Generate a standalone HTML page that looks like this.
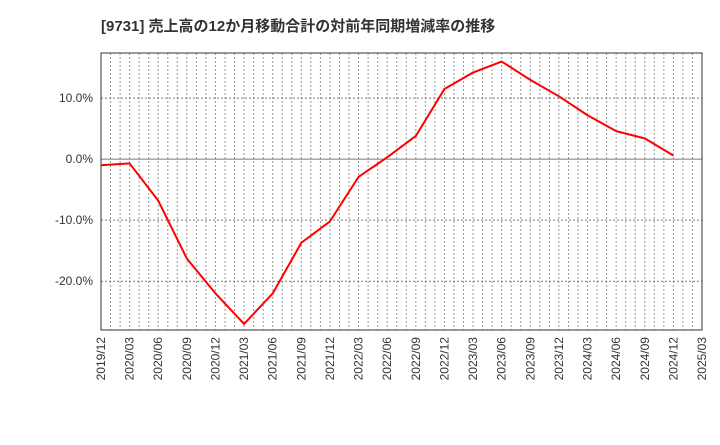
<!DOCTYPE html>
<html><head><meta charset="utf-8"><style>
body{margin:0;background:#fff;}
svg text{font-family:"Liberation Sans","Noto Sans CJK JP",sans-serif;}
</style></head><body>
<svg width="720" height="440">
<text x="101" y="31" font-size="15" font-weight="bold" fill="#333">[9731]  売上高の12か月移動合計の対前年同期増減率の推移</text>
<g id="grid"></g><g id="axes"></g><g id="series"></g>
</svg>
<script>
const categories=["2019/12","2020/03","2020/06","2020/09","2020/12","2021/03","2021/06","2021/09","2021/12","2022/03","2022/06","2022/09","2022/12","2023/03","2023/06","2023/09","2023/12","2024/03","2024/06","2024/09","2024/12","2025/03"];
const values=[-1.0,-0.7,-6.8,-16.3,-22.0,-27.0,-22.0,-13.7,-10.2,-2.9,0.3,3.8,11.5,14.2,16.0,13.0,10.3,7.2,4.6,3.4,0.6];
const yTicks=[10,0,-10,-20];
const L=101,R=702,T=53,B=330,yMax=17.4,yMin=-28;
const NS="http://www.w3.org/2000/svg";
const x=i=>L+(R-L)*i/(categories.length-1);
const y=v=>T+(yMax-v)/(yMax-yMin)*(B-T);
function mk(t,a,p){const e=document.createElementNS(NS,t);for(const k in a)e.setAttribute(k,a[k]);p.appendChild(e);return e;}
const g=document.getElementById('grid'),ax=document.getElementById('axes'),s=document.getElementById('series');
const months=(categories.length-1)*3;
for(let m=1;m<months;m++){const xx=L+(R-L)*m/months;
const ln=mk('line',{x1:xx,x2:xx,y1:T,y2:B,stroke:'#999','stroke-dasharray':'2,2','stroke-width':1},g);

}
yTicks.forEach(v=>{const yy=y(v);
const ln=mk('line',{x1:L,x2:R,y1:yy,y2:yy,stroke:v===0?'#777':'#777','stroke-dasharray':v===0?'none':'2,2','stroke-width':1},g);


const t=mk('text',{x:L-8,y:yy+4,'text-anchor':'end','font-size':12,fill:'#333'},ax);t.textContent=v.toFixed(1)+'%';

});
const fr=mk('rect',{x:L,y:T,width:R-L,height:B-T,fill:'none',stroke:'#333','stroke-width':1},ax);


categories.forEach((c,i)=>{const xx=x(i);
const t=mk('text',{x:0,y:0,'text-anchor':'end','font-size':12,fill:'#333',transform:`translate(${xx+4},${B+7}) rotate(-90)`},ax);t.textContent=c;

});
const pl=mk('polyline',{points:values.map((v,i)=>x(i)+','+y(v)).join(' '),fill:'none',stroke:'#f00','stroke-width':2,'stroke-linejoin':'round'},s);


</script>
</body></html>
